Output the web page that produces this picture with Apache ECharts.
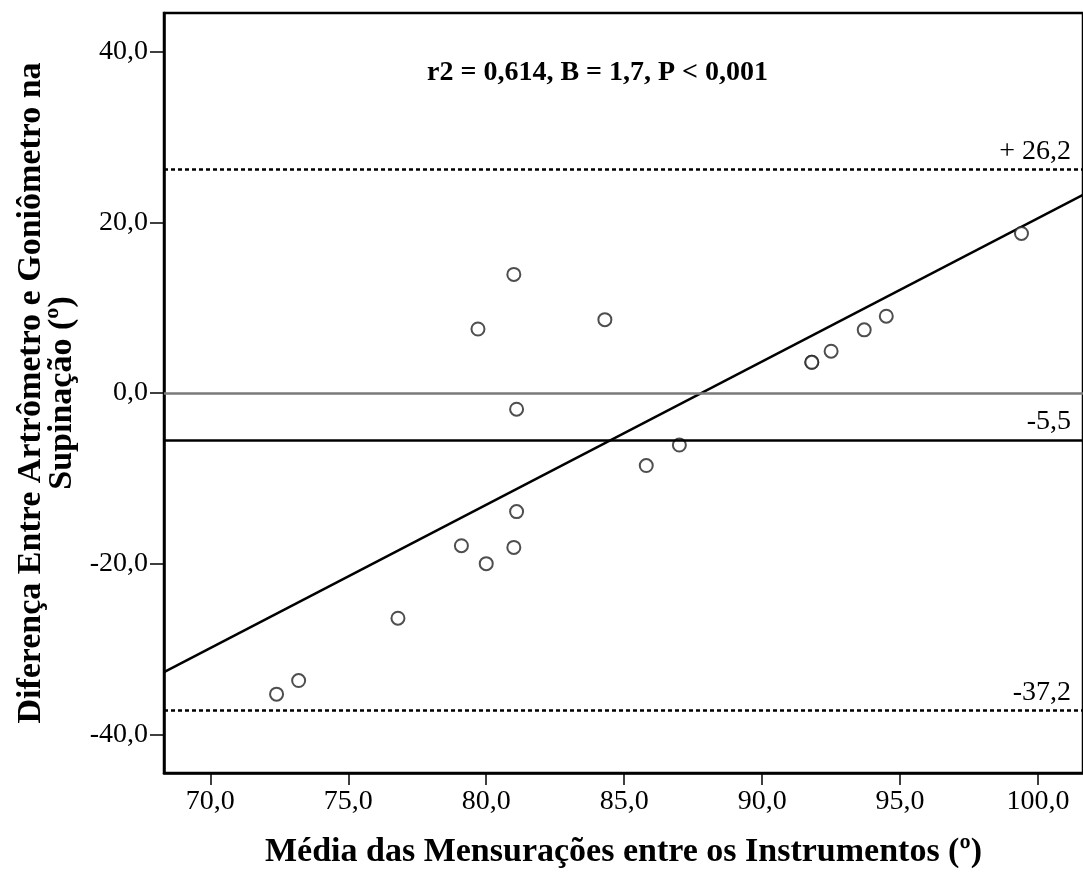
<!DOCTYPE html>
<html>
<head>
<meta charset="utf-8">
<script src="https://cdn.jsdelivr.net/npm/echarts@6/dist/echarts.min.js"></script>
<style>
  html, body { margin: 0; padding: 0; background: #fff; }
  #chart { width: 1083px; height: 874px; }
</style>
</head>
<body>
<div id="chart"></div>
<script>
// média entre instrumentos (x) e diferença artrômetro - goniômetro (y)
var mediaValues = [81.0, 79.7, 84.3, 81.1, 87.0, 85.8, 81.1, 79.1, 81.0, 80.0,
                   76.8, 73.2, 72.4, 99.4, 94.5, 93.7, 92.5, 91.8, 91.8];
var diferencaValues = [13.9, 7.5, 8.6, -1.9, -6.1, -8.5, -13.9, -17.9, -18.1, -20.0,
                       -26.4, -33.7, -35.3, 18.7, 9.0, 7.4, 4.9, 3.6, 3.6];

// linhas de referência: média e limites de concordância
var meanDiff = -5.5;
var upperLimit = 26.2;
var lowerLimit = -37.2;

// regressão
var regSlope = 1.68;
var regIntercept = -147.5;

var xTicks = [70, 75, 80, 85, 90, 95, 100];
var yTicks = [-40, -20, 0, 20, 40];

var xMin = 68.32, xMax = 101.63;
var yMin = -44.54, yMax = 44.54;

var serif = 'Liberation Serif';

var fmt = function (v) {
    return Number(v).toFixed(1).replace('.', ',');
};

var points = mediaValues.map(function (x, i) {
    return [x, diferencaValues[i]];
});

var regLine = [xMin, xMax].map(function (x) {
    return [x, regIntercept + regSlope * x];
});

var myChart = echarts.init(document.getElementById('chart'));

var option = {
    backgroundColor: '#fff',
    animation: false,
    title: {
        text: 'r2 = 0,614, B = 1,7, P < 0,001',
        left: 427,
        top: 59,
        padding: 0,
        textStyle: {
            fontFamily: serif,
            fontWeight: 'bold',
            fontSize: 28,
            color: '#000'
        }
    },
    grid: {
        left: 164,
        top: 13,
        right: -3,
        bottom: 96,
        show: true,
        borderColor: '#000',
        borderWidth: 2.5
    },
    xAxis: {
        type: 'value',
        min: xMin,
        max: xMax,
        name: 'Média das Mensurações entre os Instrumentos (º)',
        nameLocation: 'middle',
        nameGap: 62,
        nameTextStyle: {
            fontFamily: serif,
            fontWeight: 'bold',
            fontSize: 34,
            color: '#000'
        },
        splitLine: {show: false},
        axisLine: {onZero: false, lineStyle: {color: '#000', width: 2.5}},
        axisTick: {
            customValues: xTicks,
            length: 12,
            lineStyle: {color: '#000', width: 1.5}
        },
        axisLabel: {
            customValues: xTicks,
            formatter: fmt,
            margin: 15,
            fontFamily: serif,
            fontSize: 28,
            color: '#000'
        }
    },
    yAxis: {
        type: 'value',
        min: yMin,
        max: yMax,
        name: 'Diferença Entre Artrômetro e Goniômetro na\nSupinação (º)',
        nameLocation: 'middle',
        nameRotate: 90,
        nameGap: 86,
        nameTextStyle: {
            fontFamily: serif,
            fontWeight: 'bold',
            fontSize: 34,
            lineHeight: 31,
            color: '#000',
            align: 'center'
        },
        splitLine: {show: false},
        axisLine: {onZero: false, lineStyle: {color: '#000', width: 2.5}},
        axisTick: {
            customValues: yTicks,
            length: 14,
            lineStyle: {color: '#000', width: 1.5}
        },
        axisLabel: {
            customValues: yTicks,
            formatter: fmt,
            margin: 16,
            fontFamily: serif,
            fontSize: 28,
            color: '#000'
        }
    },
    series: [
        {
            type: 'line',
            data: regLine,
            showSymbol: false,
            silent: true,
            lineStyle: {color: '#000', width: 2.5},
            z: 2,
            markLine: {
                silent: true,
                symbol: 'none',
                precision: 1,
                label: {
                    position: 'insideEndTop',
                    distance: [12, 4],
                    fontFamily: serif,
                    fontSize: 28,
                    color: '#000'
                },
                data: [
                    {
                        yAxis: 0,
                        label: {show: false},
                        lineStyle: {color: '#7a7a7a', width: 2.5, type: 'solid'}
                    },
                    {
                        yAxis: meanDiff,
                        label: {formatter: fmt(meanDiff)},
                        lineStyle: {color: '#000', width: 2.5, type: 'solid'}
                    },
                    {
                        yAxis: upperLimit,
                        label: {formatter: '+ ' + fmt(upperLimit)},
                        lineStyle: {color: '#000', width: 2.5, type: [4, 3]}
                    },
                    {
                        yAxis: lowerLimit,
                        label: {formatter: fmt(lowerLimit)},
                        lineStyle: {color: '#000', width: 2.5, type: [4, 3]}
                    }
                ]
            }
        },
        {
            type: 'scatter',
            data: points,
            symbol: 'emptyCircle',
            symbolSize: 13,
            itemStyle: {color: '#222', borderColor: '#222', borderWidth: 2.2},
            z: 3
        }
    ]
};

myChart.setOption(option);
</script>
</body>
</html>
